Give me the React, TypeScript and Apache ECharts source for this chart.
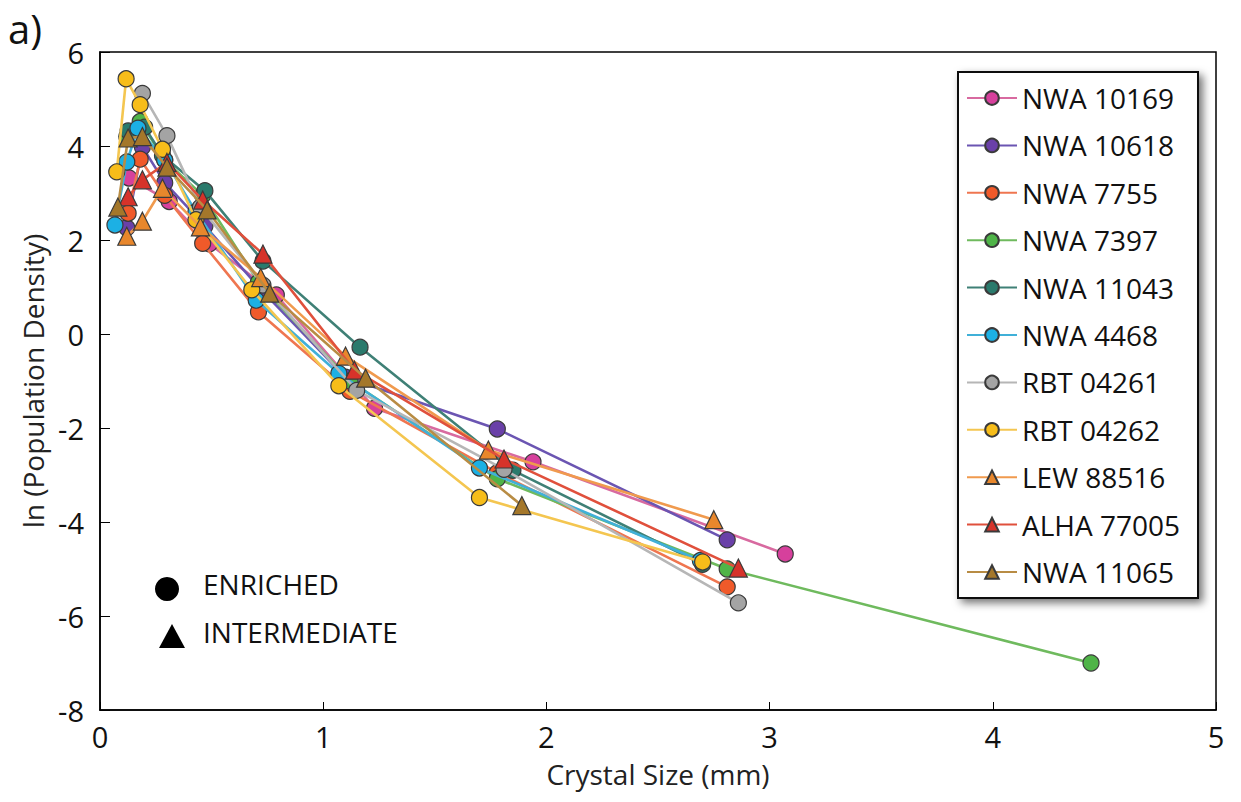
import React, { useEffect, useRef } from "react";
import * as echarts from "echarts";

const xTicks = [0, 1, 2, 3, 4, 5];
const yTicks = [-8, -6, -4, -2, 0, 2, 4, 6];

const sampleNames = [
  "NWA 10169",
  "NWA 10618",
  "NWA 7755",
  "NWA 7397",
  "NWA 11043",
  "NWA 4468",
  "RBT 04261",
  "RBT 04262",
  "LEW 88516",
  "ALHA 77005",
  "NWA 11065",
];

const nwa10169 = [[0.13, 3.32], [0.31, 2.82], [0.49, 1.92], [0.79, 0.83], [1.23, -1.58], [1.94, -2.72], [3.07, -4.68]];
const nwa10618 = [[0.12, 2.26], [0.19, 3.98], [0.29, 3.22], [0.47, 2.3], [0.72, 0.95], [1.1, -0.92], [1.78, -2.02], [2.81, -4.38]];
const nwa7755 = [[0.126, 2.57], [0.18, 3.72], [0.29, 2.95], [0.46, 1.93], [0.71, 0.47], [1.12, -1.22], [1.78, -2.95], [2.81, -5.38]];
const nwa7397 = [[0.12, 4.2], [0.18, 4.52], [0.29, 3.7], [0.46, 2.95], [0.71, 1.1], [1.12, -1.0], [1.78, -3.08], [2.81, -5.0], [4.44, -7.0]];
const nwa11043 = [[0.126, 4.32], [0.2, 4.4], [0.28, 3.8], [0.47, 3.05], [0.73, 1.55], [1.165, -0.28], [1.85, -2.9], [2.7, -4.9]];
const nwa4468 = [[0.067, 2.32], [0.12, 3.66], [0.17, 4.38], [0.29, 3.7], [0.43, 2.6], [0.7, 0.72], [1.07, -0.84], [1.7, -2.85], [2.69, -4.82]];
const rbt04261 = [[0.19, 5.12], [0.3, 4.22], [0.45, 2.7], [0.73, 1.04], [1.15, -1.2], [1.81, -2.88], [2.86, -5.72]];
const rbt04262 = [[0.075, 3.45], [0.117, 5.43], [0.18, 4.88], [0.28, 3.93], [0.43, 2.43], [0.68, 0.94], [1.07, -1.1], [1.7, -3.48], [2.7, -4.85]];
const lew88516 = [[0.12, 2.08], [0.19, 2.4], [0.28, 3.1], [0.45, 2.28], [0.72, 1.2], [1.1, -0.47], [1.74, -2.47], [2.75, -3.95]];
const alha77005 = [[0.126, 2.92], [0.19, 3.28], [0.3, 3.65], [0.46, 2.85], [0.73, 1.7], [1.14, -0.77], [1.81, -2.66], [2.86, -4.98]];
const nwa11065 = [[0.08, 2.7], [0.126, 4.17], [0.19, 4.2], [0.3, 3.55], [0.48, 2.64], [0.76, 0.87], [1.19, -0.94], [1.89, -3.65]];

const seriesData = [nwa10169, nwa10618, nwa7755, nwa7397, nwa11043, nwa4468, rbt04261, rbt04262, lew88516, alha77005, nwa11065];
const markerColors = ["#d6409c", "#6a40a8", "#f05a2a", "#4fb448", "#2a7a6c", "#1cb0e4", "#a4a4a4", "#f7bd1a", "#e8872c", "#d6332a", "#a4772a"];
const lineColors = ["#d86aa0", "#6b55b2", "#ef7650", "#6fba5e", "#3f8076", "#40b0d8", "#b6b6b6", "#f4c650", "#f09a4e", "#e0503c", "#b88c44"];
const symbols = ["circle", "circle", "circle", "circle", "circle", "circle", "circle", "circle", "triangle", "triangle", "triangle"];

const FONT = "'Open Sans', 'Noto Sans', sans-serif";

export default function App() {
  const ref = useRef<HTMLDivElement>(null);
  useEffect(() => {
    if (!ref.current) return;
    const chart = echarts.init(ref.current, null, { renderer: "svg" });
    const series = sampleNames.map((name, i) => ({
      name,
      type: "line",
      data: seriesData[i],
      symbol: symbols[i],
      symbolSize: symbols[i] === "triangle" ? 18 : 16,
      lineStyle: { color: lineColors[i], width: 2.6 },
      itemStyle: { color: markerColors[i], borderColor: "#3a3a3a", borderWidth: 1.2 },
      z: 2 + i,
    }));
    chart.setOption({
      animation: false,
      backgroundColor: "#ffffff",
      textStyle: { fontFamily: FONT },
      grid: { left: 100, right: 25, top: 52, bottom: 92, show: true, borderColor: "#000", borderWidth: 1.5, backgroundColor: "transparent" },
      xAxis: {
        type: "value",
        min: xTicks[0],
        max: xTicks[xTicks.length - 1],
        interval: 1,
        name: "Crystal Size (mm)",
        nameLocation: "middle",
        nameGap: 50,
        nameTextStyle: { fontSize: 28, color: "#222", fontFamily: FONT },
        axisLine: { show: true, onZero: false, lineStyle: { color: "#000", width: 1.5 } },
        axisTick: { show: true, inside: true, length: 8, lineStyle: { color: "#000" } },
        axisLabel: { fontSize: 29, color: "#111", margin: 12, fontFamily: FONT },
        splitLine: { show: false },
      },
      yAxis: {
        type: "value",
        min: yTicks[0],
        max: yTicks[yTicks.length - 1],
        interval: 2,
        name: "ln (Population Density)",
        nameLocation: "middle",
        nameGap: 52,
        nameTextStyle: { fontSize: 28, color: "#222", fontFamily: FONT },
        axisLine: { show: true, onZero: false, lineStyle: { color: "#000", width: 1.5 } },
        axisTick: { show: true, inside: true, length: 10, lineStyle: { color: "#000" } },
        axisLabel: { fontSize: 29, color: "#111", margin: 16, fontFamily: FONT },
        splitLine: { show: false },
      },
      legend: {
        orient: "vertical",
        left: 958,
        top: 72,
        data: sampleNames,
        backgroundColor: "#ffffff",
        borderColor: "#111",
        borderWidth: 2,
        padding: [12, 18, 12, 8],
        itemWidth: 50,
        itemHeight: 17,
        itemGap: 19.4,
        shadowBlur: 8,
        shadowColor: "rgba(0,0,0,0.55)",
        shadowOffsetX: 4,
        shadowOffsetY: 4,
        textStyle: { fontSize: 28, color: "#111", fontFamily: FONT, lineHeight: 28 },
      },
      graphic: [
        { type: "text", left: 8, top: 8, style: { text: "a)", fontSize: 40, fill: "#111", fontFamily: FONT } },
        { type: "circle", shape: { cx: 167, cy: 589, r: 12 }, style: { fill: "#000" } },
        { type: "text", left: 203, top: 570, style: { text: "ENRICHED", fontSize: 28, fill: "#111", fontFamily: FONT } },
        { type: "polygon", shape: { points: [[172, 624], [159, 648], [185, 648]] }, style: { fill: "#000" } },
        { type: "text", left: 203, top: 618, style: { text: "INTERMEDIATE", fontSize: 28, fill: "#111", fontFamily: FONT } },
      ],
      series,
    });
    return () => chart.dispose();
  }, []);
  return <div ref={ref} style={{ width: 1241, height: 802, position: "absolute", left: 0, top: 0 }} />;
}
